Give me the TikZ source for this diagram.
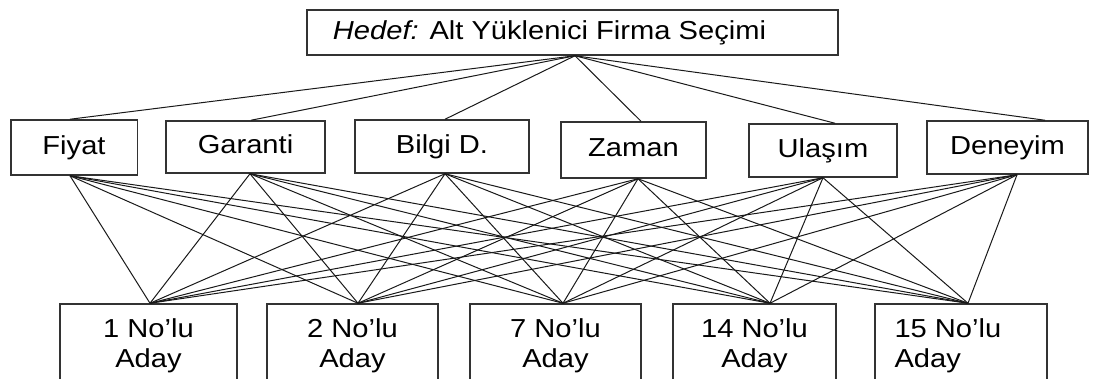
\documentclass[tikz,border=0pt]{standalone}
\usepackage{fontspec}
\setmainfont{Liberation Sans}[FakeStretch=1.12]
\begin{document}
\begin{tikzpicture}[x=1pt,y=-1pt,
  box/.style={draw=black!80, line width=1.5pt, inner sep=0pt, text=black,
    font=\fontsize{26}{29.5}\selectfont},
  crit/.style={box, text height=18.5pt, text depth=5.5pt},
  alt/.style={box, minimum height=84},
  link/.style={draw=black!90, line width=1pt}]
\useasboundingbox (0,0) rectangle (1096,378);
\clip (0,0) rectangle (1096,378);
% goal
\node[box, minimum width=531, minimum height=45, text height=18.5pt, text depth=5.5pt] (goal) at (572.5,32.5) {\textit{Hedef:} Alt Yüklenici Firma Seçimi\hspace*{46pt}};
% criteria
\node[crit, minimum width=126.5, minimum height=55] (fiyat) at (74,147.5) {Fiyat};
\node[crit, minimum width=159, minimum height=52] (garanti) at (245.5,147) {Garanti};
\node[crit, minimum width=174, minimum height=53] (bilgi) at (442,146.5) {Bilgi D.};
\node[crit, minimum width=145, minimum height=56] (zaman) at (633.5,150) {Zaman};
\node[crit, minimum width=148, minimum height=53] (ulasim) at (823,150.5) {Ulaşım};
\node[crit, minimum width=161, minimum height=53] (deneyim) at (1007.5,147.5) {Deneyim};
% alternatives
\node[alt, align=center, minimum width=177] (a1) at (148.5,346) {1 No’lu\\Aday};
\node[alt, align=center, minimum width=171] (a2) at (352.5,346) {2 No’lu\\Aday};
\node[alt, align=center, minimum width=171] (a7) at (555.5,346) {7 No’lu\\Aday};
\node[alt, align=center, minimum width=163] (a14) at (754.5,346) {14 No’lu\\Aday};
\node[alt, align=left, minimum width=172] (a15) at (961,346) {\makebox[133pt][l]{15 No’lu}\\Aday};
% goal to criteria
\coordinate (gs) at ([xshift=2.5]goal.south);
\draw[link] (gs) -- ([xshift=-4]fiyat.north);
\draw[link] (gs) -- ([xshift=5.5]garanti.north);
\draw[link] (gs) -- ([xshift=3]bilgi.north);
\draw[link] (gs) -- ([xshift=7.5]zaman.north);
\draw[link] (gs) -- ([xshift=12]ulasim.north);
\draw[link] (gs) -- ([xshift=37.5]deneyim.north);
% criteria to alternatives
\coordinate (fs) at ([xshift=-4]fiyat.south);
\coordinate (gas) at ([xshift=4.5]garanti.south);
\coordinate (bs) at ([xshift=3]bilgi.south);
\coordinate (zs) at ([xshift=4.5]zaman.south);
\coordinate (us) at ([xshift=0]ulasim.south);
\coordinate (ds) at ([xshift=9.5]deneyim.south);
\foreach \c in {fs,gas,bs,zs,us,ds}{
  \draw[link] (\c) -- ([xshift=1.5]a1.north);
  \draw[link] (\c) -- ([xshift=5.5]a2.north);
  \draw[link] (\c) -- ([xshift=7.5]a7.north);
  \draw[link] (\c) -- ([xshift=15.5]a14.north);
  \draw[link] (\c) -- ([xshift=7]a15.north);
}
\end{tikzpicture}
\end{document}
